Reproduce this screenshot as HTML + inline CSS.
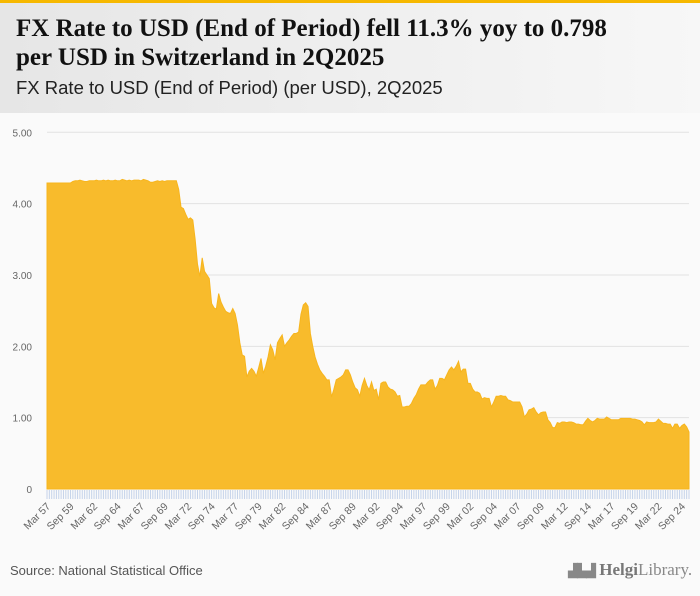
<!DOCTYPE html>
<html><head><meta charset="utf-8">
<style>
body{margin:0;width:700px;height:596px;background:#fafafa;font-family:"Liberation Sans",sans-serif;overflow:hidden;position:relative}
#topbar{position:absolute;left:0;top:0;width:700px;height:3px;background:#f6b800}
#header{position:absolute;left:0;top:3px;width:700px;height:110px;background:linear-gradient(to right,#e6e6e6,#f7f7f7)}
#title{position:absolute;left:16px;top:14px;font-family:"Liberation Serif",serif;font-weight:bold;font-size:25px;line-height:29px;color:#111;margin:0}
#subtitle{position:absolute;left:16px;top:77px;font-size:18.5px;color:#222}
#source{position:absolute;left:10px;top:563px;font-size:13px;color:#555}
#logo{position:absolute;left:568px;top:560px;font-size:17px;color:#888;font-family:"Liberation Serif",serif}
svg{position:absolute;left:0;top:0}
</style></head><body>
<div id="topbar"></div>
<div id="header"></div>
<h1 id="title">FX Rate to USD (End of Period) fell 11.3% yoy to 0.798<br>per USD in Switzerland in 2Q2025</h1>
<div id="subtitle">FX Rate to USD (End of Period) (per USD), 2Q2025</div>
<svg id="chart" width="700" height="596"></svg>
<div id="source">Source: National Statistical Office</div>
<div id="logo"><span style="font-size:13px;letter-spacing:-1px">▟▙▟</span> <b style="color:#777">Helgi</b>Library.</div>
<script>
const startYear = 1957;
const values = [
4.29,4.29,4.29,4.29, 4.29,4.29,4.29,4.29, 4.29,4.29,4.29,4.31, 4.32,4.32,4.33,4.32,
4.31,4.31,4.32,4.32, 4.32,4.33,4.32,4.32, 4.33,4.32,4.33,4.32, 4.32,4.33,4.32,4.32,
4.34,4.33,4.32,4.33, 4.32,4.33,4.33,4.33, 4.32,4.34,4.33,4.32, 4.30,4.30,4.31,4.32,
4.31,4.32,4.31,4.32, 4.32,4.32,4.32,4.32, 4.20,3.95,3.93,3.85, 3.78,3.80,3.77,3.50,
3.15,2.98,3.24,3.05, 3.00,2.95,2.60,2.54, 2.52,2.74,2.62,2.55, 2.49,2.47,2.46,2.53,
2.46,2.30,2.05,1.88, 1.86,1.57,1.65,1.69, 1.65,1.58,1.70,1.83, 1.62,1.72,1.85,2.02,
1.95,1.81,2.05,2.11, 2.16,2.00,2.05,2.09, 2.14,2.18,2.18,2.20, 2.45,2.58,2.61,2.56,
2.18,2.00,1.85,1.75, 1.67,1.62,1.58,1.53, 1.53,1.29,1.40,1.53, 1.55,1.57,1.60,1.67,
1.67,1.60,1.50,1.42, 1.39,1.30,1.45,1.55, 1.45,1.39,1.50,1.38, 1.40,1.25,1.48,1.50,
1.50,1.43,1.40,1.39, 1.36,1.30,1.31,1.15, 1.15,1.16,1.16,1.20, 1.27,1.32,1.40,1.46,
1.46,1.46,1.50,1.53, 1.53,1.40,1.45,1.55, 1.55,1.53,1.60,1.67, 1.71,1.67,1.72,1.79,
1.64,1.68,1.68,1.48, 1.48,1.40,1.36,1.36, 1.34,1.26,1.28,1.27, 1.27,1.15,1.22,1.30,
1.30,1.31,1.30,1.30, 1.25,1.24,1.22,1.22, 1.22,1.22,1.15,1.01, 1.05,1.11,1.12,1.14,
1.08,1.04,1.07,1.08, 1.08,0.97,0.93,0.86, 0.86,0.93,0.92,0.94, 0.94,0.93,0.94,0.94,
0.93,0.91,0.91,0.90, 0.90,0.95,0.99,0.96, 0.94,0.96,0.99,0.98, 0.98,0.98,1.01,0.99,
0.97,0.97,0.97,0.97, 0.99,0.99,0.99,0.99, 0.99,0.98,0.98,0.97, 0.96,0.94,0.90,0.94,
0.93,0.93,0.93,0.94, 0.98,0.95,0.92,0.92, 0.91,0.91,0.85,0.91, 0.91,0.85,0.89,0.91,
0.87,0.80];
const yTicks = [0,1,2,3,4,5];
const yTickLabels = ["0","1.00","2.00","3.00","4.00","5.00"];
const monthNames = ["Mar","Jun","Sep","Dec"];

const NS="http://www.w3.org/2000/svg";
const svg=document.getElementById('chart');
const x0=47,x1=689,y0=489,yTop=132.3;
const n=values.length;
function xs(i){return x0+(x1-x0)*i/(n-1);}
function ys(v){return y0-(y0-yTop)*v/5;}
function mk(t,a){const e=document.createElementNS(NS,t);for(const k in a)e.setAttribute(k,a[k]);svg.appendChild(e);return e;}

yTicks.forEach((t,k)=>{
  if(t>0){const g=mk('line',{x1:x0,x2:x1,y1:ys(t),y2:ys(t),stroke:'#e2e2e2','stroke-width':1});
  
  }
  const l=mk('text',{x:32,y:ys(t)+4,'text-anchor':'end','font-size':'10','fill':'#666','font-family':'Liberation Sans, sans-serif'});
  l.textContent=yTickLabels[k];
  
  
});

let d='M'+xs(0)+','+ys(0);
values.forEach((v,i)=>{d+=' L'+xs(i).toFixed(2)+','+ys(v).toFixed(2);});
d+=' L'+xs(n-1)+','+ys(0)+' Z';
const area=mk('path',{d:d,fill:'#f8bb2c',stroke:'#f7b51d','stroke-width':1});



for(let i=0;i<n;i++){
  const t=mk('line',{x1:xs(i),x2:xs(i),y1:y0+1,y2:y0+10,stroke:'#c5d3ea','stroke-width':1});
  
  
}
for(let i=0;i<n;i+=10){
  const yr=startYear+Math.floor(i/4);
  const lab=monthNames[i%4]+' '+String(yr%100).padStart(2,'0');
  const tx=xs(i)+4,ty=y0+18;
  const l=mk('text',{x:tx,y:ty,'text-anchor':'end','font-size':'10.5','fill':'#666','font-family':'Liberation Sans, sans-serif',transform:'rotate(-45 '+tx+' '+ty+')'});
  l.textContent=lab;
  
  
}
</script>
</body></html>
